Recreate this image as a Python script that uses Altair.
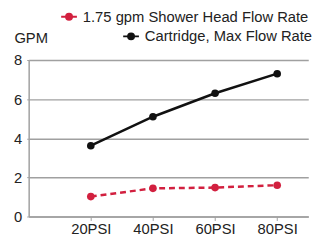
import altair as alt
import pandas as pd

psi = [20, 40, 60, 80]
shower = [1.02, 1.44, 1.48, 1.6]
cartridge = [3.62, 5.1, 6.3, 7.3]
series_names = ["1.75 gpm Shower Head Flow Rate", "Cartridge, Max Flow Rate"]
colors = ["#d2203f", "#111111"]
y_ticks = [0, 2, 4, 6, 8]

FONT = "Liberation Sans"
FS = 15
SYM = "M-1,0H1M0.38,0A0.38,0.38,0,1,1,-0.38,0A0.38,0.38,0,1,1,0.38,0"

df1 = pd.DataFrame({"psi": psi, "gpm": shower, "series": series_names[0]})
df2 = pd.DataFrame({"psi": psi, "gpm": cartridge, "series": series_names[1]})

x = alt.X(
    "psi:Q",
    scale=alt.Scale(domain=[0, 90], nice=False, zero=False),
    axis=alt.Axis(values=psi, labelExpr="datum.value + 'PSI'", title=None, grid=False,
                  domainColor="#a0a0a0", domainWidth=1.5, tickColor="#a0a0a0", tickSize=4,
                  labelFontSize=FS, labelColor="#222222", labelPadding=1, labelFont=FONT),
)
y = alt.Y(
    "gpm:Q",
    scale=alt.Scale(domain=[0, 8], nice=False),
    axis=alt.Axis(values=y_ticks, title="GPM", titleAngle=0, titleX=-15, titleY=-23,
                  titleAlign="left", titleBaseline="middle", titleFontSize=FS,
                  titleFontWeight="normal", titleColor="#222222", titleFont=FONT,
                  gridColor="#a0a0a0", gridWidth=1.5, domainColor="#a0a0a0", domainWidth=1.5,
                  tickColor="#a0a0a0", tickSize=2, labelFontSize=FS, labelColor="#222222",
                  labelPadding=5, labelFont=FONT),
)


def series_layer(df, idx, dash, lx, ly):
    col = colors[idx]
    color = alt.Color(
        "series:N",
        scale=alt.Scale(domain=[series_names[idx]], range=[col]),
        legend=alt.Legend(title=None, orient="none", legendX=lx, legendY=ly,
                          symbolType=SYM, symbolSize=256, symbolStrokeWidth=2,
                          symbolStrokeColor=col, symbolFillColor=col,
                          labelFontSize=FS, labelFont=FONT, labelColor="#222222",
                          labelLimit=0, labelOffset=5, padding=0),
    )
    base = alt.Chart(df)
    line_kw = dict(strokeWidth=2.5)
    if dash:
        line_kw["strokeDash"] = [6, 4]
    line = base.mark_line(**line_kw).encode(x=x, y=y, color=color)
    pts = base.mark_circle(size=60, opacity=1).encode(x=x, y=y, color=color)
    return alt.layer(line, pts)


chart = alt.layer(
    series_layer(df1, 0, True, 32, -53),
    series_layer(df2, 1, False, 95, -33),
).resolve_scale(color="independent").properties(
    width=284, height=159,
    autosize=alt.AutoSizeParams(type="none"),
    padding={"left": 21, "top": 51, "right": 17, "bottom": 20},
).configure_view(stroke=None)

chart.save("out.html", embed_options={"renderer": "svg", "actions": False})
